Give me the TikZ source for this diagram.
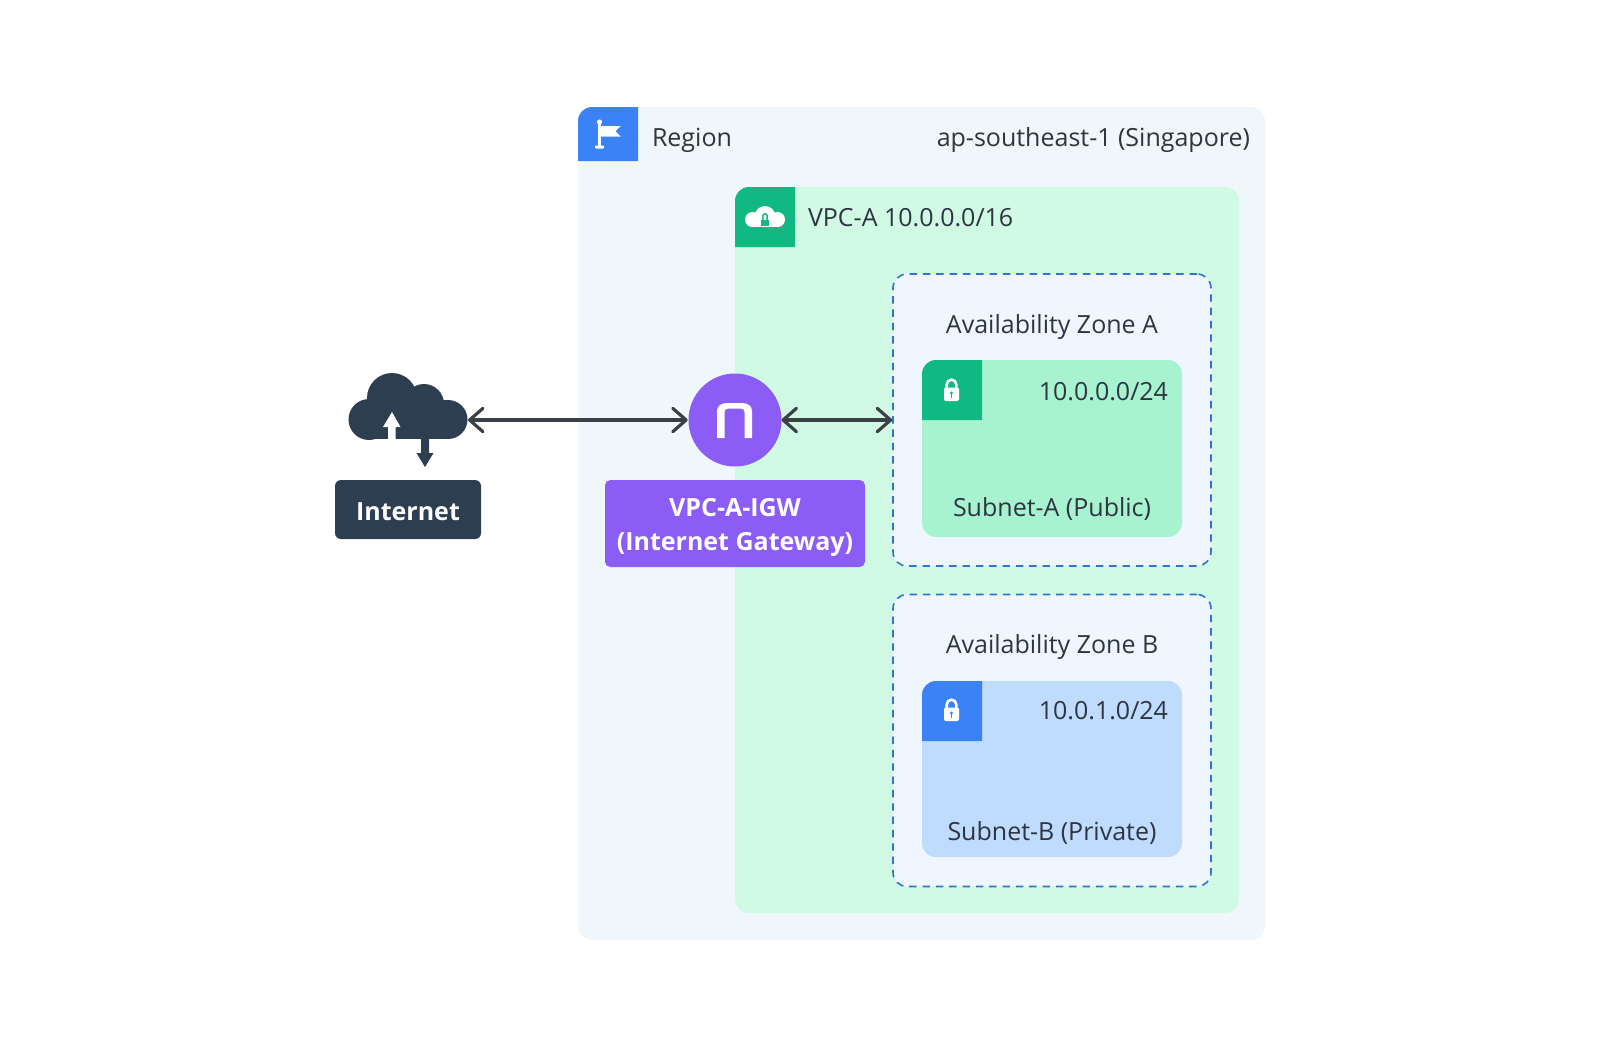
\documentclass[tikz,border=0pt]{standalone}
\usepackage{fontspec}
\setmainfont{Open Sans}
\usetikzlibrary{arrows.meta}
\definecolor{regionbg}{HTML}{F0F7FA}
\definecolor{vpcbg}{HTML}{D1FAE5}
\definecolor{azbg}{HTML}{EFF6FF}
\definecolor{subagreen}{HTML}{A7F3D0}
\definecolor{subbblue}{HTML}{BFDBFE}
\definecolor{iconblue}{HTML}{3B82F6}
\definecolor{dashblue}{HTML}{2F74D0}
\definecolor{icongreen}{HTML}{10B981}
\definecolor{gwpurple}{HTML}{8B5CF6}
\definecolor{navy}{HTML}{2D3E50}
\definecolor{inktext}{HTML}{2D3540}
\definecolor{connline}{HTML}{3C4045}
\tikzset{
  x=0.75pt,y=-0.75pt,
  sized/.style 2 args={minimum width=#1*0.75pt,minimum height=#2*0.75pt,inner sep=0pt,outer sep=0pt,anchor=north west},
  panel/.style={rounded corners=10.5pt},
  azbox/.style={panel,fill=azbg,draw=dashblue,line width=1.2pt,dash pattern=on 5.6pt off 4.4pt},
  lab/.style={font=\fontsize{18.75}{24}\selectfont,text=inktext,inner sep=0pt,outer sep=0pt},
  bold lab/.style={font=\fontsize{18.75}{25.5}\selectfont\bfseries,text=white,inner sep=0pt,outer sep=0pt},
  conn/.style={draw=connline,line width=2.4pt,line cap=round,
    {Straight Barb[length=10pt,width=17.5pt,line width=2.4pt,round]}-{Straight Barb[length=10pt,width=17.5pt,line width=2.4pt,round]},shorten >=0.6pt},
}
% icon tile whose top-left corner is rounded: x, y, height, colour
\newcommand{\tile}[4]{\fill[#4] (#1,#2+#3) [rounded corners=10.5pt] -- (#1,#2) [sharp corners] -- (#1+60,#2) -- (#1+60,#2+#3) -- cycle;}
% padlock centred at x, top y
\newcommand{\padlock}[3]{%
  \draw[white,line width=1.95pt] (#1-4.8,#2+10) -- (#1-4.8,#2+6.5) arc[start angle=180,end angle=360,radius=4.8] -- (#1+4.8,#2+10);
  \fill[white,rounded corners=1pt] (#1-7.5,#2+9.5) rectangle (#1+7.5,#2+23);
  \fill[#3] (#1,#2+15) circle[radius=1.6];
  \fill[#3] (#1-0.9,#2+15) rectangle (#1+0.9,#2+20);
}
\begin{document}
\begin{tikzpicture}
\useasboundingbox (0,0) rectangle (1600,1047);
\fill[white] (0,0) rectangle (1600,1047);

% containers
\node[sized={687}{833},panel,fill=regionbg] (region) at (578,107) {};
\node[sized={504}{726},panel,fill=vpcbg] (vpc) at (735,187) {};
\node[sized={318}{292},azbox] (azA) at (893,274) {};
\node[sized={318}{292},azbox] (azB) at (893,594.5) {};
\node[sized={260}{177},panel,fill=subagreen] (subA) at (922,360) {};
\node[sized={260}{176},panel,fill=subbblue] (subB) at (922,681) {};

% tiles
\tile{578}{107}{54}{iconblue}
\tile{735}{187}{60}{icongreen}
\tile{922}{360}{60}{icongreen}
\tile{922}{681}{60}{iconblue}

% flag icon
\fill[white] (599.5,122) circle[radius=2.6];
\fill[white] (598,122) rectangle (601,148);
\fill[white,rounded corners=0.6pt] (595,145.5) rectangle (604,148.5);
\fill[white] (600,126) -- (620.5,126) -- (615.5,131) -- (620.5,136.5) -- (600,136.5) -- cycle;

% vpc cloud icon
\fill[white] (752.5,219.5) circle[radius=7.5];
\fill[white] (765,216.5) circle[radius=10.5];
\fill[white] (777.5,219.5) circle[radius=7.5];
\fill[white] (752.5,216) rectangle (777.5,227);
\fill[icongreen] (761.2,219.5) rectangle (768.8,226);
\draw[icongreen,line width=1.1pt] (762.8,220) -- (762.8,216) arc[start angle=180,end angle=360,radius=2.2] -- (767.2,220);

% subnet locks
\padlock{951.5}{378}{icongreen}
\padlock{951.5}{698}{iconblue}

% labels
\node[lab,anchor=base west] (regionL) at (652,146) {Region};
\node[lab,anchor=base east] (regionR) at (1250,146) {ap-southeast-1 (Singapore)};
\node[lab,anchor=base west] (vpcL) at (808,226.5) {VPC-A 10.0.0.0/16};
\node[lab,anchor=base] (azAL) at (1052,333.5) {Availability Zone A};
\node[lab,anchor=base east] (cidrA) at (1168,400) {10.0.0.0/24};
\node[lab,anchor=base] (subAL) at (1052,516.5) {Subnet-A (Public)};
\node[lab,anchor=base] (azBL) at (1052,653.5) {Availability Zone B};
\node[lab,anchor=base east] (cidrB) at (1168,719.5) {10.0.1.0/24};
\node[lab,anchor=base] (subBL) at (1052,840.5) {Subnet-B (Private)};

% gateway
\node[circle,fill=gwpurple,minimum size=69.75pt,inner sep=0pt,outer sep=0pt] (igw) at (735,420) {};
\fill[white] (717,438) -- (717,411) .. controls (717,406) and (721,403) .. (727,403) -- (742,403) .. controls (748,403) and (752,406) .. (752,411) -- (752,438) -- (744.5,438) -- (744.5,412) .. controls (744.5,409.5) and (743,408.5) .. (740,408.5) -- (729,408.5) .. controls (726,408.5) and (724.5,409.5) .. (724.5,412) -- (724.5,438) -- cycle;
\node[sized={260}{87},rounded corners=4pt,fill=gwpurple] (igwbox) at (605,480) {};
\node[bold lab,anchor=base] (igwL1) at (735,516) {VPC-A-IGW};
\node[bold lab,anchor=base] (igwL2) at (735,550) {(Internet Gateway)};

% internet
\node[sized={120}{94},anchor=center] (cloud) at (408,420) {};
\fill[navy] (369,419.5) circle[radius=20.5];
\fill[navy] (392,398) circle[radius=25];
\fill[navy] (424,404) circle[radius=20];
\fill[navy] (448,419.5) circle[radius=19.5];
\fill[navy] (369,400) rectangle (448,439);
\fill[white] (392,412) -- (400.5,427) -- (395.5,427) -- (395.5,439) -- (388,439) -- (388,427) -- (383,427) -- cycle;
\fill[navy] (421,439) -- (429,439) -- (429,453) -- (433.5,453) -- (425,467) -- (416.5,453) -- (421,453) -- cycle;
\node[sized={146}{59},rounded corners=4.5pt,fill=navy] (inetbox) at (335,480) {};
\node[bold lab,anchor=base] (inetL) at (408,520) {Internet};

% connectors
\draw[conn] (cloud.east) -- (igw.west);
\draw[conn] (igw.east) -- (azA.west);
\end{tikzpicture}
\end{document}
